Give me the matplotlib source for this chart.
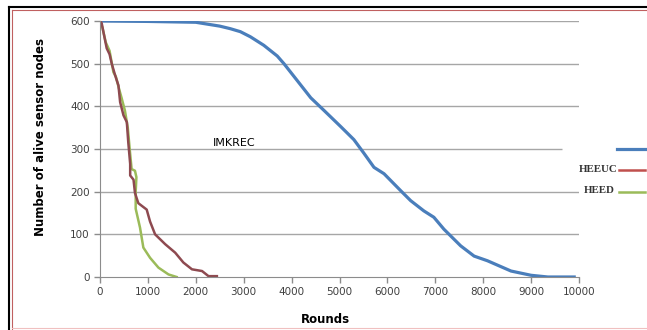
import matplotlib.pyplot as plt
from matplotlib.lines import Line2D

# data
imkrec_rounds = [0, 1000, 2000, 2500, 2720, 2930, 3140, 3420, 3700, 3840, 4120,
                 4400, 4680, 5030, 5300, 5510, 5720, 5930, 6280, 6485, 6760,
                 6970, 7180, 7530, 7810, 8090, 8580, 9000, 9350, 9900]
imkrec_alive = [600, 599, 597, 588, 582, 575, 563, 543, 518, 500, 460,
                420, 390, 352, 322, 290, 257, 242, 202, 179, 155,
                140, 112, 73, 49, 38, 14, 4, 0, 0]

heeuc_rounds = [0, 35, 70, 140, 200, 245, 315, 385, 420, 490, 560, 590, 630,
                630, 700, 730, 800, 975, 1045, 1150, 1360, 1570, 1740, 1920,
                2130, 2265, 2440]
heeuc_alive = [600, 595, 575, 536, 522, 500, 473, 449, 410, 379, 363, 316, 265,
               238, 228, 197, 173, 158, 130, 100, 77, 57, 34, 18,
               14, 2, 2]

heed_rounds = [0, 50, 120, 200, 280, 330, 400, 450, 520, 580, 620, 660, 730,
               760, 745, 745, 835, 905, 1045, 1220, 1430, 1600]
heed_alive = [600, 585, 550, 530, 480, 470, 440, 420, 390, 350, 300, 253, 249,
              234, 200, 160, 116, 69, 45, 22, 6, 0]

x_ticks = [0, 1000, 2000, 3000, 4000, 5000, 6000, 7000, 8000, 9000, 10000]
y_ticks = [0, 100, 200, 300, 400, 500, 600]

blue = "#4A7EBB"
red = "#8E4A50"
green = "#9BBB59"

fig = plt.figure(figsize=(6.47, 3.30), dpi=100)
ax = fig.add_axes([100 / 647, 1 - 277 / 330, 479 / 647, 256 / 330])

# gridlines (the 300 line stops short of the right edge)
for yv in y_ticks[1:]:
    xmax = 9650 if yv == 300 else 10000
    ax.hlines(yv, 0, xmax, color="#A6A6A6", lw=1, zorder=0)

ax.plot(imkrec_rounds, imkrec_alive, color=blue, lw=2.3)
ax.plot(heed_rounds, heed_alive, color=green, lw=1.8)
ax.plot(heeuc_rounds, heeuc_alive, color=red, lw=1.8)

ax.set_xlim(0, 10000)
ax.set_ylim(0, 600)
ax.set_xticks(x_ticks)
ax.set_yticks(y_ticks)
ax.tick_params(labelsize=7.5, labelcolor="#404040", color="#8C8C8C",
               length=4, width=1)
for s in ["top", "right"]:
    ax.spines[s].set_visible(False)
for s in ["left", "bottom"]:
    ax.spines[s].set_color("#8C8C8C")

ax.set_xlabel("Rounds", fontsize=8.5, fontweight="bold")
ax.set_ylabel("Number of alive sensor nodes", fontsize=8.5, fontweight="bold")
ax.xaxis.set_label_coords(0.47, -0.14)
ax.yaxis.set_label_coords(-0.11, 0.547)

ax.text(2800, 315, "IMKREC", fontsize=8, family="Liberation Sans Narrow",
        ha="center", va="center")

# legend drawn by hand at the right side
fig.add_artist(Line2D([617 / 647, 645 / 647], [1 - 149 / 330] * 2,
                      color=blue, lw=2.3))
fig.add_artist(Line2D([619 / 647, 645 / 647], [1 - 170 / 330] * 2,
                      color="#C0504D", lw=1.8))
fig.add_artist(Line2D([619 / 647, 645 / 647], [1 - 192 / 330] * 2,
                      color=green, lw=1.8))
fig.text(618 / 647, 1 - 169 / 330, "HEEUC", fontsize=7.8, family="Liberation Serif",
         fontweight="bold", ha="right", va="center", color="#333333")
fig.text(615 / 647, 1 - 191 / 330, "HEED", fontsize=7.8, family="Liberation Serif",
         fontweight="bold", ha="right", va="center", color="#333333")

# frame lines around the picture
fig.add_artist(Line2D([9 / 647, 9 / 647], [0, 1 - 7 / 330], color="black", lw=1.5))
fig.add_artist(Line2D([9 / 647, 1], [1 - 7 / 330] * 2, color="black", lw=1.5))
fig.add_artist(Line2D([11.5 / 647, 11.5 / 647], [0, 1 - 10 / 330],
                      color="#C06060", lw=0.8))
fig.add_artist(Line2D([11.5 / 647, 1], [1 - 10 / 330] * 2, color="#C06060", lw=0.8))
fig.add_artist(Line2D([11.5 / 647, 1], [2 / 330] * 2, color="#F0C0C0", lw=0.8))

fig.savefig("out.png", dpi=100)
